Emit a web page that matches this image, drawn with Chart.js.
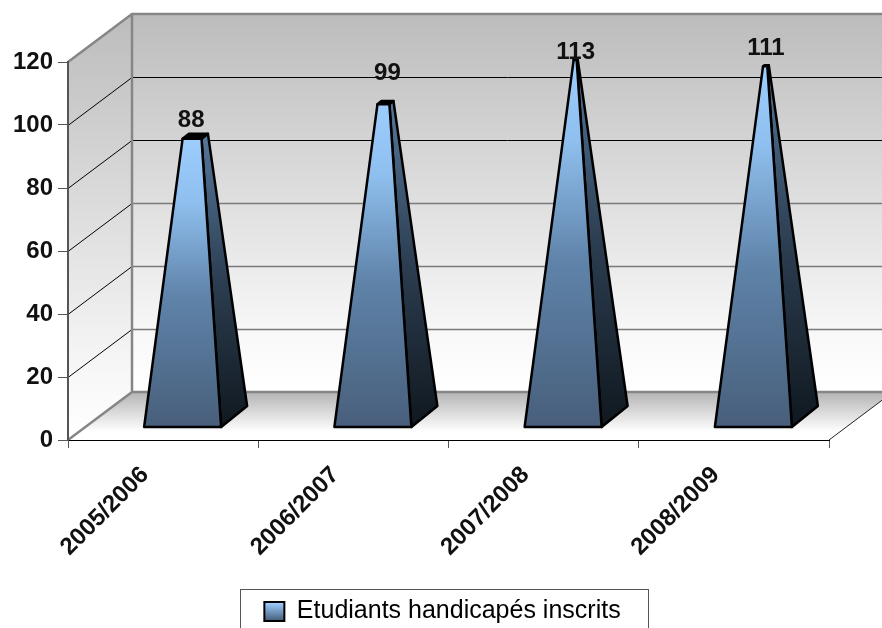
<!DOCTYPE html>
<html>
<head>
<meta charset="utf-8">
<style>
  body { margin: 0; background: #fff; }
  canvas { display: block; }
</style>
<script src="https://cdn.jsdelivr.net/npm/chart.js@4"></script>
</head>
<body>
<canvas id="chart" width="882" height="628"></canvas>
<script>
const categories = ["2005/2006", "2006/2007", "2007/2008", "2008/2009"];
const values = [88, 99, 113, 111];
const seriesName = "Etudiants handicapés inscrits";
const yTickLabels = [0, 20, 40, 60, 80, 100, 120];

const fontName = "'Liberation Sans', Arial, sans-serif";
const depthX = 64;
const depthY = -48;
// small nudges for the value labels, the original ones sit unevenly
const labelLift = [18, 31, 8, 18];
const labelShift = [-4, 2, 0, 0];

function lerp(a, b, t) {
  return { x: a.x + (b.x - a.x) * t, y: a.y + (b.y - a.y) * t };
}

function poly(ctx, pts) {
  ctx.beginPath();
  pts.forEach((p, i) => (i ? ctx.lineTo(p.x, p.y) : ctx.moveTo(p.x, p.y)));
  ctx.closePath();
}

function vGrad(ctx, y0, y1, stops) {
  const g = ctx.createLinearGradient(0, y0, 0, y1);
  stops.forEach(s => g.addColorStop(s[0], s[1]));
  return g;
}

const walls = {
  id: "walls",
  afterLayout(chart) {
    // legend is centred on the whole box in the original, not on the plot
    chart.legend.left += 28;
    chart.legend.right += 28;
  },
  beforeDraw(chart) {
    const { ctx, chartArea: a, scales: { y } } = chart;
    const bx = a.left + depthX;
    const topB = a.top + depthY;
    const botB = a.bottom + depthY;
    const wallStops = [[0, "#bcbcbc"], [0.85, "#f8f8f8"], [1, "#ffffff"]];

    ctx.save();
    ctx.fillStyle = "#fff";
    ctx.fillRect(0, 0, chart.width, chart.height);

    // back wall
    ctx.fillStyle = vGrad(ctx, topB, botB, wallStops);
    ctx.fillRect(bx, topB, a.right - a.left, botB - topB);

    // side wall
    poly(ctx, [{ x: a.left, y: a.top }, { x: bx, y: topB }, { x: bx, y: botB }, { x: a.left, y: a.bottom }]);
    ctx.fillStyle = vGrad(ctx, topB, a.bottom, wallStops);
    ctx.fill();

    // floor
    poly(ctx, [{ x: a.left, y: a.bottom }, { x: bx, y: botB }, { x: a.right + depthX, y: botB }, { x: a.right, y: a.bottom }]);
    ctx.fillStyle = vGrad(ctx, botB, a.bottom - 8, [[0, "#b4b4b4"], [1, "#ffffff"]]);
    ctx.fill();

    // grid lines, on the side wall and the back wall
    y.ticks.forEach(t => {
      if (t.value === 0 || t.value === 120) return;
      const py = Math.round(y.getPixelForValue(t.value)) + 0.5;
      ctx.strokeStyle = "#000";
      ctx.lineWidth = 1;
      ctx.beginPath();
      ctx.moveTo(a.left, py);
      ctx.lineTo(bx, py + depthY);
      ctx.stroke();
      // the lower ones come out grey and thicker in the original
      if (t.value <= 60) {
        ctx.strokeStyle = "#7a7a7a";
        ctx.lineWidth = 1.5;
      }
      ctx.beginPath();
      ctx.moveTo(bx, py + depthY);
      ctx.lineTo(a.right + depthX, py + depthY);
      ctx.stroke();
    });

    // grey frame
    ctx.strokeStyle = "#868686";
    ctx.lineWidth = 2.5;
    ctx.beginPath();
    ctx.moveTo(a.left, a.top);
    ctx.lineTo(bx, topB);
    ctx.lineTo(a.right + depthX, topB);
    ctx.moveTo(bx, topB);
    ctx.lineTo(bx, botB);
    ctx.lineTo(a.right + depthX, botB);
    ctx.moveTo(bx, botB);
    ctx.lineTo(a.left, a.bottom);
    ctx.stroke();

    ctx.strokeStyle = "#222";
    ctx.lineWidth = 1;
    ctx.beginPath();
    ctx.moveTo(a.right, a.bottom);
    ctx.lineTo(a.right + depthX, a.bottom + depthY);
    ctx.stroke();
    ctx.restore();
  },
  afterDraw(chart) {
    // frame round the legend, runs off the bottom like the original
    const ctx = chart.ctx;
    ctx.save();
    ctx.strokeStyle = "#555";
    ctx.lineWidth = 1;
    ctx.strokeRect(240.5, 589.5, 408, 60);
    ctx.restore();
  }
};

const pyramids = {
  id: "pyramids",
  afterDatasetsDraw(chart) {
    const { ctx, scales: { y } } = chart;
    const meta = chart.getDatasetMeta(0);
    const baseY = y.getPixelForValue(0) - 13;
    const apexY = y.getPixelForValue(120) - 17;

    ctx.save();
    meta.data.forEach((bar, i) => {
      const fl = { x: bar.x - 19, y: baseY };
      const fr = { x: bar.x + 58, y: baseY };
      const br = { x: fr.x + 26, y: baseY - 21 };
      const bl = { x: fl.x + 26, y: baseY - 21 };
      const apex = { x: fl.x + 51, y: apexY };
      const topY = bar.y - 24;
      const t = (baseY - topY) / (baseY - apexY);
      const flT = lerp(fl, apex, t);
      const frT = lerp(fr, apex, t);
      const brT = lerp(br, apex, t);
      const blT = lerp(bl, apex, t);

      ctx.lineJoin = "round";
      ctx.strokeStyle = "#000";
      ctx.lineWidth = 2.5;

      poly(ctx, [fr, br, brT, frT]);
      ctx.fillStyle = vGrad(ctx, topY, baseY, [[0, "#557699"], [0.5, "#2b3d50"], [1, "#10181f"]]);
      ctx.fill();
      ctx.stroke();

      poly(ctx, [flT, frT, brT, blT]);
      ctx.fillStyle = "#000";
      ctx.fill();
      ctx.stroke();

      poly(ctx, [fl, fr, frT, flT]);
      ctx.fillStyle = vGrad(ctx, topY, baseY, [[0, "#9ccdfd"], [0.22, "#8fbfee"], [0.55, "#5f83a9"], [1, "#485f7b"]]);
      ctx.fill();
      ctx.stroke();

      ctx.fillStyle = "#111";
      ctx.font = "bold 24px " + fontName;
      ctx.textAlign = "center";
      ctx.textBaseline = "middle";
      ctx.fillText(values[i], apex.x + labelShift[i], topY - labelLift[i]);
    });
    ctx.restore();
  }
};

const canvas = document.getElementById("chart");
// original text is spaced out a little
canvas.getContext("2d").letterSpacing = "0.5px";

new Chart(canvas, {
  type: "bar",
  data: {
    labels: categories,
    datasets: [{
      label: seriesName,
      data: values,
      backgroundColor: "transparent",
      borderWidth: 0
    }]
  },
  options: {
    responsive: false,
    animation: false,
    layout: { padding: { left: 0, top: 62, right: 53, bottom: -6 } },
    plugins: {
      tooltip: { enabled: false },
      legend: {
        position: "bottom",
        labels: {
          padding: 0,
          boxWidth: 20,
          boxHeight: 19,
          color: "#111",
          font: { size: 25, family: fontName },
          generateLabels(chart) {
            return [{
              text: seriesName,
              fillStyle: vGrad(chart.ctx, 603, 622, [[0, "#9ccdfd"], [1, "#3f5570"]]),
              strokeStyle: "#000",
              lineWidth: 2,
              datasetIndex: 0
            }];
          }
        }
      }
    },
    scales: {
      x: {
        afterFit(scale) { scale.height = 159; },
        border: { color: "#000", width: 1 },
        grid: { drawOnChartArea: false, tickLength: 8, tickColor: "#555", offset: true },
        ticks: {
          autoSkip: false,
          maxRotation: 45,
          minRotation: 45,
          labelOffset: -18,
          padding: 13,
          color: "#111",
          font: { size: 24, weight: "bold", family: fontName }
        }
      },
      y: {
        min: 0,
        max: 120,
        afterFit(scale) { scale.width = 68; },
        afterBuildTicks(scale) { scale.ticks = yTickLabels.map(v => ({ value: v })); },
        border: { color: "#555", width: 2 },
        grid: { drawOnChartArea: false, tickLength: 10, tickColor: "#555" },
        ticks: {
          padding: 5,
          color: "#111",
          font: { size: 24, weight: "bold", family: fontName }
        }
      }
    }
  },
  plugins: [walls, pyramids]
});
</script>
</body>
</html>
